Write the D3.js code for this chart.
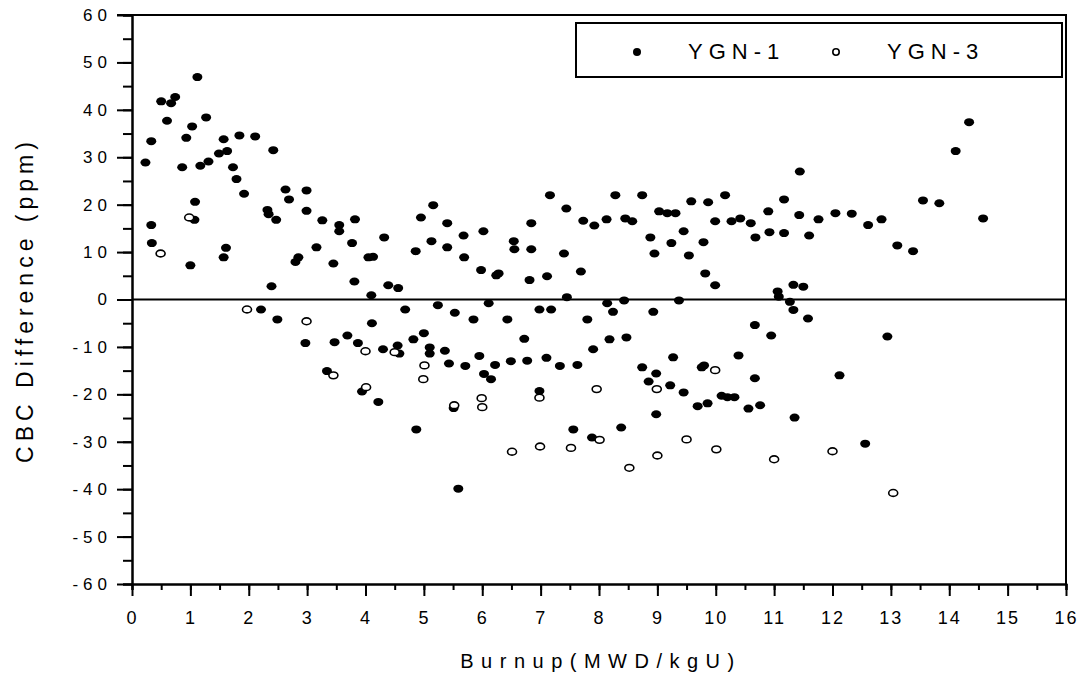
<!DOCTYPE html>
<html>
<head>
<meta charset="utf-8">
<script src="https://cdn.jsdelivr.net/npm/d3@7"></script>
<style>
  body { margin: 0; background: #fff; }
  svg { display: block; font-family: "Liberation Sans", Arial, sans-serif; }
</style>
</head>
<body>
<div id="container"></div>
<script>
// YGN-1 (filled) : [burnup, CBC difference]
var ygn1 = [
  [0.23, 28.9], [0.33, 33.4], [0.33, 15.7], [0.34, 11.9], [0.50, 41.8], [0.60, 37.7],
  [0.67, 41.4], [0.74, 42.7], [0.86, 27.9], [0.93, 34.1], [1.00, 7.2], [1.03, 36.5],
  [1.07, 16.8], [1.08, 20.6], [1.12, 46.9], [1.17, 28.2], [1.27, 38.4], [1.31, 29.1],
  [1.49, 30.8], [1.57, 33.8], [1.57, 8.9], [1.61, 10.9], [1.63, 31.3], [1.73, 27.9],
  [1.79, 25.4], [1.84, 34.6], [1.92, 22.3], [2.11, 34.4], [2.21, -2.1], [2.32, 18.9],
  [2.34, 18.0], [2.39, 2.8], [2.42, 31.5], [2.47, 16.8], [2.49, -4.2], [2.63, 23.2],
  [2.69, 21.1], [2.80, 7.9], [2.85, 8.9], [2.97, -9.2], [2.99, 23.0], [2.99, 18.7],
  [3.16, 11.0], [3.26, 16.7], [3.34, -15.1], [3.45, 7.6], [3.47, -9.0], [3.55, 15.7],
  [3.55, 14.4], [3.69, -7.6], [3.77, 11.9], [3.81, 3.8], [3.82, 16.9], [3.87, -9.2],
  [3.94, -19.4], [4.05, 8.9], [4.10, 0.9], [4.11, -5.0], [4.13, 9.0], [4.22, -21.6],
  [4.30, -10.5], [4.32, 13.1], [4.39, 3.0], [4.55, -9.7], [4.56, 2.4], [4.58, -11.4],
  [4.68, -2.1], [4.82, -8.4], [4.86, 10.2], [4.87, -27.4], [4.95, 17.3], [5.00, -7.1],
  [5.10, -10.1], [5.10, -11.4], [5.13, 12.3], [5.16, 19.9], [5.24, -1.2], [5.36, -10.8],
  [5.40, 16.1], [5.40, 11.0], [5.43, -13.5], [5.51, -22.9], [5.53, -2.8], [5.59, -39.9],
  [5.68, 13.5], [5.69, 8.9], [5.71, -14.0], [5.85, -4.2], [5.95, -11.9], [5.98, 6.2],
  [6.02, 14.4], [6.03, -15.7], [6.11, -0.8], [6.15, -16.8], [6.22, -13.8], [6.24, 5.1],
  [6.28, 5.5], [6.43, -4.2], [6.49, -13.0], [6.54, 12.3], [6.55, 10.6], [6.72, -8.3],
  [6.77, -12.9], [6.81, 4.1], [6.84, 16.1], [6.84, 10.6], [6.98, -2.1], [6.98, -19.3],
  [7.10, -12.3], [7.11, 4.9], [7.16, 22.0], [7.18, -2.1], [7.33, -14.0], [7.40, 9.7],
  [7.44, 19.2], [7.45, 0.5], [7.56, -27.4], [7.63, -13.8], [7.69, 5.9], [7.73, 16.6],
  [7.80, -4.2], [7.88, -29.1], [7.90, -10.5], [7.92, 15.6], [8.13, 16.9], [8.14, -0.8],
  [8.18, -8.4], [8.24, -2.6], [8.28, 22.0], [8.38, -27.0], [8.43, -0.2], [8.45, 17.1],
  [8.47, -8.0], [8.57, 16.5], [8.74, 22.0], [8.74, -14.3], [8.85, -17.3], [8.88, 13.1],
  [8.93, -2.6], [8.95, 9.7], [8.98, -15.6], [8.98, -24.2], [9.03, 18.6], [9.17, 18.2],
  [9.22, -18.1], [9.24, 11.9], [9.27, -12.2], [9.31, 18.2], [9.37, -0.2], [9.45, 14.4],
  [9.45, -19.6], [9.54, 9.3], [9.58, 20.7], [9.69, -22.5], [9.76, -14.3], [9.79, 12.1],
  [9.80, -13.9], [9.82, 5.5], [9.86, -21.9], [9.87, 20.5], [9.99, 16.5], [9.99, 3.0],
  [10.10, -20.3], [10.16, 22.0], [10.20, -20.6], [10.27, 16.5], [10.32, -20.6], [10.39, -11.8],
  [10.42, 17.1], [10.56, -23.0], [10.60, 16.1], [10.67, -5.4], [10.67, -16.6], [10.68, 13.1],
  [10.76, -22.3], [10.90, 18.6], [10.92, 14.2], [10.95, -7.6], [11.06, 1.7], [11.08, 0.6],
  [11.17, 21.1], [11.17, 14.0], [11.27, -0.5], [11.33, 3.1], [11.33, -2.2], [11.35, -24.9],
  [11.43, 17.8], [11.44, 27.0], [11.50, 2.7], [11.58, -4.0], [11.60, 13.5], [11.76, 16.9],
  [12.05, 18.2], [12.12, -16.0], [12.33, 18.1], [12.56, -30.4], [12.61, 15.7], [12.84, 16.9],
  [12.94, -7.8], [13.11, 11.4], [13.38, 10.2], [13.55, 20.9], [13.83, 20.3], [14.11, 31.3],
  [14.34, 37.4], [14.58, 17.1]
]

// YGN-3 (open)
var ygn3 = [
  [0.49, 9.7], [0.98, 17.3], [1.97, -2.1], [2.99, -4.6], [3.45, -16.0], [4.00, -10.9],
  [4.01, -18.5], [4.50, -11.1], [4.99, -16.8], [5.01, -13.9], [5.52, -22.3], [5.99, -20.8],
  [6.00, -22.7], [6.51, -32.1], [6.98, -20.7], [6.99, -31.0], [7.52, -31.3], [7.96, -18.9],
  [8.01, -29.6], [8.52, -35.5], [8.99, -18.9], [9.00, -32.9], [9.50, -29.5], [9.99, -14.9],
  [10.01, -31.6], [11.00, -33.7], [12.00, -32.0], [13.04, -40.8]
]

var seriesNames = ['YGN-1', 'YGN-3']
var xTicks = d3.range(0, 17, 1)
var xMinor = d3.range(0, 16.5, 0.5)
var yTicks = d3.range(-60, 61, 10)
var yMinor = d3.range(-60, 61, 5)

var width = 1087, height = 674
var plotLeft = 132, plotRight = 1066, plotTop = 15, plotBottom = 584

var svg = d3.select('#container').append('svg')
  .attr('width', width).attr('height', height)

var x = d3.scaleLinear().domain([0, 16]).range([plotLeft, plotRight])
var y = d3.scaleLinear().domain([-60, 60]).range([plotBottom, plotTop])

// plain hyphen for negatives, like the original
var plainFormat = function (d) { return String(d) }

// frame (top + right)
svg.append('path')
  .attr('d', 'M' + (plotLeft - 15) + ',' + plotTop + 'H' + plotRight + 'V' + plotBottom)
  .attr('fill', 'none').attr('stroke', '#000').attr('stroke-width', 2)

// zero line
svg.append('line')
  .attr('x1', plotLeft).attr('x2', plotRight)
  .attr('y1', y(0)).attr('y2', y(0))
  .attr('stroke', '#000').attr('stroke-width', 2)

function styleAxis(g) {
  g.select('.domain').attr('stroke-width', 2)
  g.selectAll('.tick line').attr('stroke-width', 2)
  g.attr('font-family', null)
}

// y axis
svg.append('g').attr('transform', 'translate(' + plotLeft + ',0)')
  .call(d3.axisLeft(y).tickValues(yMinor).tickSize(9).tickFormat(''))
  .call(styleAxis)
var yAxis = svg.append('g').attr('transform', 'translate(' + plotLeft + ',0)')
  .call(d3.axisLeft(y).tickValues(yTicks).tickSize(15).tickPadding(5)
    .tickSizeOuter(0).tickFormat(plainFormat))
  .call(styleAxis)
yAxis.selectAll('text')
  .attr('font-size', 17).attr('fill', '#000')
  .style('letter-spacing', '5px')

// x axis
svg.append('g').attr('transform', 'translate(0,' + plotBottom + ')')
  .call(d3.axisBottom(x).tickValues(xMinor).tickSize(6).tickFormat(''))
  .call(styleAxis)
var xAxis = svg.append('g').attr('transform', 'translate(0,' + plotBottom + ')')
  .call(d3.axisBottom(x).tickValues(xTicks).tickSize(12).tickPadding(15)
    .tickSizeOuter(0).tickFormat(plainFormat))
  .call(styleAxis)
xAxis.selectAll('text')
  .attr('font-size', 18).attr('fill', '#000')
  .style('letter-spacing', '2px')

// axis titles
svg.append('text')
  .attr('x', 601).attr('y', 668)
  .attr('text-anchor', 'middle')
  .attr('font-size', 20)
  .style('letter-spacing', '7.5px')
  .text('Burnup(MWD/kgU)')

svg.append('text')
  .attr('transform', 'translate(33,' + 300 + ') rotate(-90)')
  .attr('text-anchor', 'middle')
  .attr('font-size', 23)
  .style('letter-spacing', '5px')
  .text('CBC Difference (ppm)')

// points
svg.append('g').selectAll('ellipse')
  .data(ygn1).join('ellipse')
  .attr('cx', function (d) { return x(d[0]) })
  .attr('cy', function (d) { return y(d[1]) })
  .attr('rx', 5).attr('ry', 4)
  .attr('fill', '#000')

svg.append('g').selectAll('ellipse')
  .data(ygn3).join('ellipse')
  .attr('cx', function (d) { return x(d[0]) })
  .attr('cy', function (d) { return y(d[1]) })
  .attr('rx', 4.5).attr('ry', 3.4)
  .attr('fill', '#fff').attr('stroke', '#000').attr('stroke-width', 1.6)

// legend
var legend = svg.append('g')
legend.append('rect')
  .attr('x', 576).attr('y', 23).attr('width', 486).attr('height', 54)
  .attr('fill', '#fff').attr('stroke', '#000').attr('stroke-width', 2)

var legendX = [637, 836]
seriesNames.forEach(function (name, i) {
  legend.append('circle')
    .attr('cx', legendX[i]).attr('cy', 52)
    .attr('r', i === 0 ? 4 : 3.2)
    .attr('fill', i === 0 ? '#000' : '#fff')
    .attr('stroke', '#000').attr('stroke-width', i === 0 ? 0 : 1.6)
  legend.append('text')
    .attr('x', legendX[i] + 51).attr('y', 59)
    .attr('font-size', 22)
    .style('letter-spacing', '6px')
    .text(name)
})
</script>
</body>
</html>
